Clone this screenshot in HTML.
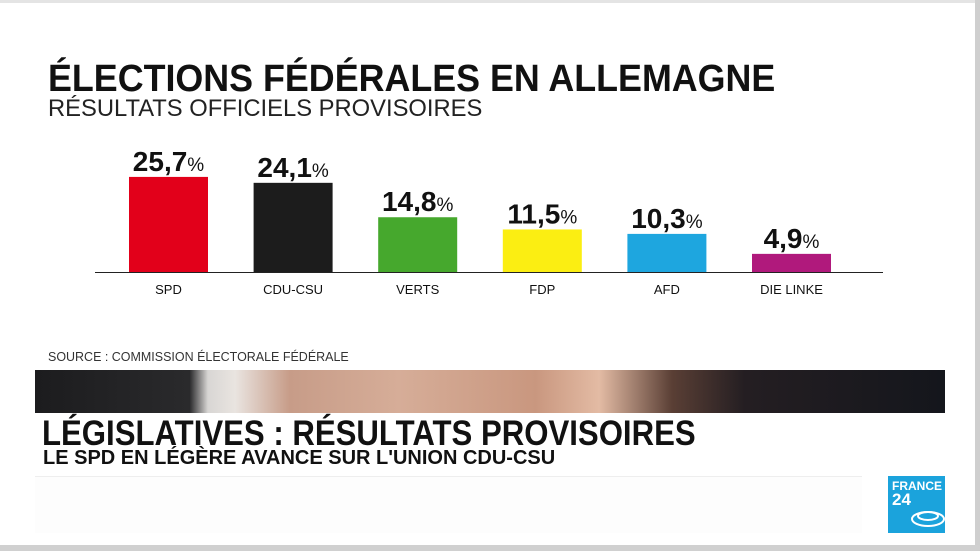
<!DOCTYPE html>
<html><head><meta charset="utf-8"><style>
body{margin:0;width:980px;height:551px;overflow:hidden;background:#fff;font-family:"Liberation Sans",sans-serif;position:relative}
.t{position:absolute;white-space:nowrap;font-weight:bold;color:#111;transform-origin:0 0}
</style></head><body>
<div style="position:absolute;left:0;top:0;width:980px;height:3px;background:#e4e4e4"></div>
<div style="position:absolute;left:975px;top:0;width:5px;height:551px;background:#cfcfcf"></div>
<div style="position:absolute;left:0;top:545px;width:980px;height:6px;background:#d0d0d0"></div>
<div class="t" style="left:48px;top:58px;font-size:38px;transform:scaleX(0.943)">ÉLECTIONS FÉDÉRALES EN ALLEMAGNE</div>
<div class="t" style="left:48px;top:95px;font-size:24px;font-weight:normal;color:#222;transform:scaleX(0.99)">RÉSULTATS OFFICIELS PROVISOIRES</div>
<svg id="chart" width="980" height="320" style="position:absolute;left:0;top:0"></svg>
<div class="t" style="left:48px;top:349px;font-size:13px;font-weight:normal;color:#333;transform:scaleX(0.96)">SOURCE : COMMISSION ÉLECTORALE FÉDÉRALE</div>
<div style="position:absolute;left:35px;top:370px;width:910px;height:43px;background:linear-gradient(90deg,#1c1c1e 0%,#2a2a2c 17%,#d8d6d4 19%,#e9e4e0 22%,#c79c88 28%,#d6ad98 40%,#c9977f 55%,#e3bba4 62%,#5a3f35 70%,#241e22 78%,#14161c 100%)"></div>
<div class="t" style="left:42px;top:414px;font-size:35px;transform:scaleX(0.89)">LÉGISLATIVES : RÉSULTATS PROVISOIRES</div>
<div class="t" style="left:43px;top:447px;font-size:20px">LE SPD EN LÉGÈRE AVANCE SUR L'UNION CDU-CSU</div>
<div style="position:absolute;left:35px;top:476px;width:827px;height:56px;background:#fdfdfd;border-top:1px solid #eee"></div>
<div style="position:absolute;left:888px;top:476px;width:57px;height:57px;background:#1ba3dc;color:#fff;font-weight:bold">
<div style="position:absolute;left:4px;top:3px;font-size:12px">FRANCE</div>
<div style="position:absolute;left:4px;top:14px;font-size:17px">24</div>
<svg width="57" height="57" style="position:absolute;left:0;top:0"><g fill="none" stroke="#fff" stroke-width="2"><ellipse cx="40" cy="40" rx="10" ry="4"/><ellipse cx="40" cy="43" rx="16" ry="7"/></g></svg>
</div>
<script>
const categories=["SPD","CDU-CSU","VERTS","FDP","AFD","DIE LINKE"];
const values=[25.7,24.1,14.8,11.5,10.3,4.9];
const valueLabels=["25,7","24,1","14,8","11,5","10,3","4,9"];
const colors=["#e2001a","#1c1c1c","#46a82d","#fbee12","#1ea6df","#b0197c"];
const svg=document.getElementById('chart');
const NS="http://www.w3.org/2000/svg";
const baseY=272,scale=3.7,x0=129,step=124.6,bw=79;
function xPos(i){return x0+i*step;}
function yPos(v){return baseY-v*scale;}
const ax=document.createElementNS(NS,'line');


ax.setAttribute('x1',95);ax.setAttribute('x2',883);ax.setAttribute('y1',272.5);ax.setAttribute('y2',272.5);
ax.setAttribute('stroke','#222');ax.setAttribute('stroke-width',1);
svg.appendChild(ax);
categories.forEach((c,i)=>{
 const r=document.createElementNS(NS,'rect');
 
 
 r.setAttribute('x',xPos(i));r.setAttribute('y',yPos(values[i]));
 r.setAttribute('width',bw);r.setAttribute('height',values[i]*scale);
 r.setAttribute('fill',colors[i]);svg.appendChild(r);
 const t=document.createElementNS(NS,'text');
 
 
 t.setAttribute('x',xPos(i)+bw/2);t.setAttribute('y',yPos(values[i])-6);
 t.setAttribute('text-anchor','middle');
 t.setAttribute('font-family','"Liberation Sans",sans-serif');
 t.setAttribute('font-weight','bold');t.setAttribute('font-size','28');t.setAttribute('fill','#111');
 t.textContent=valueLabels[i];
 const p=document.createElementNS(NS,'tspan');p.setAttribute('font-size','19');p.setAttribute('font-weight','normal');p.textContent='%';
 t.appendChild(p);svg.appendChild(t);
 const l=document.createElementNS(NS,'text');
 
 
 l.setAttribute('x',xPos(i)+bw/2);l.setAttribute('y',294);
 l.setAttribute('text-anchor','middle');
 l.setAttribute('font-family','"Liberation Sans",sans-serif');
 l.setAttribute('font-size','13');l.setAttribute('fill','#111');
 l.textContent=c;svg.appendChild(l);
});
</script>
</body></html>
